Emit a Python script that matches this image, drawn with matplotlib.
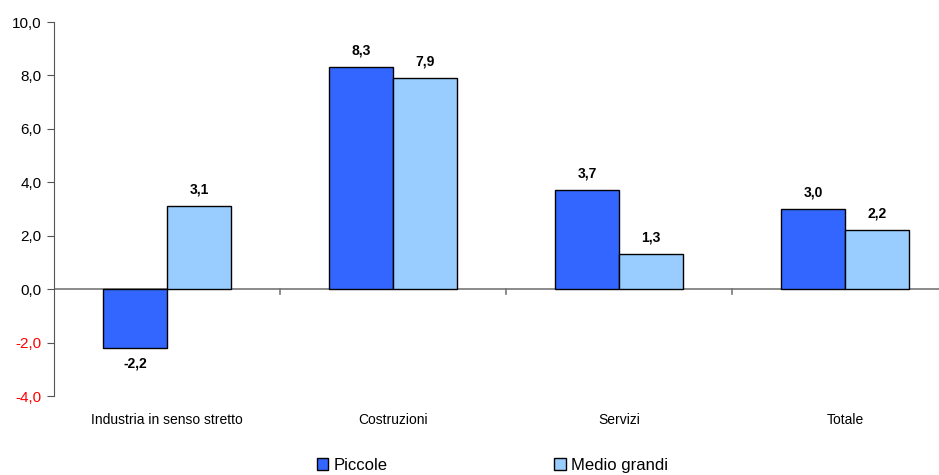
import matplotlib
matplotlib.use("Agg")
import matplotlib.pyplot as plt
import numpy as np

categories = ["Industria in senso stretto", "Costruzioni", "Servizi", "Totale"]
piccole = [-2.2, 8.3, 3.7, 3.0]
medio_grandi = [3.1, 7.9, 1.3, 2.2]
series_names = ["Piccole", "Medio grandi"]
yticks = [-4, -2, 0, 2, 4, 6, 8, 10]

c_dark, c_light = "#3366FF", "#99CCFF"
sans = ["Liberation Sans", "DejaVu Sans"]

fig = plt.figure(figsize=(9.39, 4.75), dpi=100)
ax = fig.add_axes([54 / 939, 79 / 475, 904 / 939, 374 / 475])

x = np.arange(len(categories))
w = 0.283
b1 = ax.bar(x - w / 2, piccole, w, color=c_dark, edgecolor="black", linewidth=1, zorder=3)
b2 = ax.bar(x + w / 2, medio_grandi, w, color=c_light, edgecolor="black", linewidth=1, zorder=3)

def fmt(v):
    return f"{v:.1f}".replace(".", ",")

for bars, vals in ((b1, piccole), (b2, medio_grandi)):
    for b, v in zip(bars, vals):
        off = 7 if v >= 0 else -6
        ax.annotate(fmt(v), (b.get_x() + b.get_width() / 2, v), xytext=(0, off),
                    textcoords="offset points", ha="center",
                    va="bottom" if v >= 0 else "top",
                    fontsize=10, fontweight="bold", family=sans)

ax.set_xlim(-0.5, len(categories) - 0.5)
ax.set_ylim(-4, 10)
ax.set_yticks(yticks)
ax.set_yticklabels([fmt(t) for t in yticks], family=sans, fontsize=11)
for lab, t in zip(ax.get_yticklabels(), yticks):
    if t < 0:
        lab.set_color("red")
ax.tick_params(axis="y", length=5, color="#555555", pad=4)

for s in ("top", "right", "bottom"):
    ax.spines[s].set_visible(False)
ax.spines["left"].set_color("#555555")
ax.axhline(0, color="#777777", linewidth=1.2, zorder=2)

# separators between groups on the zero line
ax.set_xticks([])
for xb in np.arange(0.5, len(categories) - 0.5, 1.0):
    ax.plot([xb, xb], [0, -0.2], color="#777777", linewidth=1.2, clip_on=False, zorder=2)

for xi, cat in zip(x, categories):
    ax.text(xi, -4.9, cat, ha="center", va="center", fontsize=10, family=sans)

# legend
handles = [plt.Rectangle((0, 0), 1, 1, facecolor=c, edgecolor="black") for c in (c_dark, c_light)]
fig.legend(handles, series_names, loc="center", bbox_to_anchor=(0.524, 0.02), ncol=2,
           frameon=False, handlelength=0.7, handleheight=0.7,
           handletextpad=0.3, columnspacing=10, prop={"family": sans, "size": 12})

fig.savefig("out.png", dpi=100)
